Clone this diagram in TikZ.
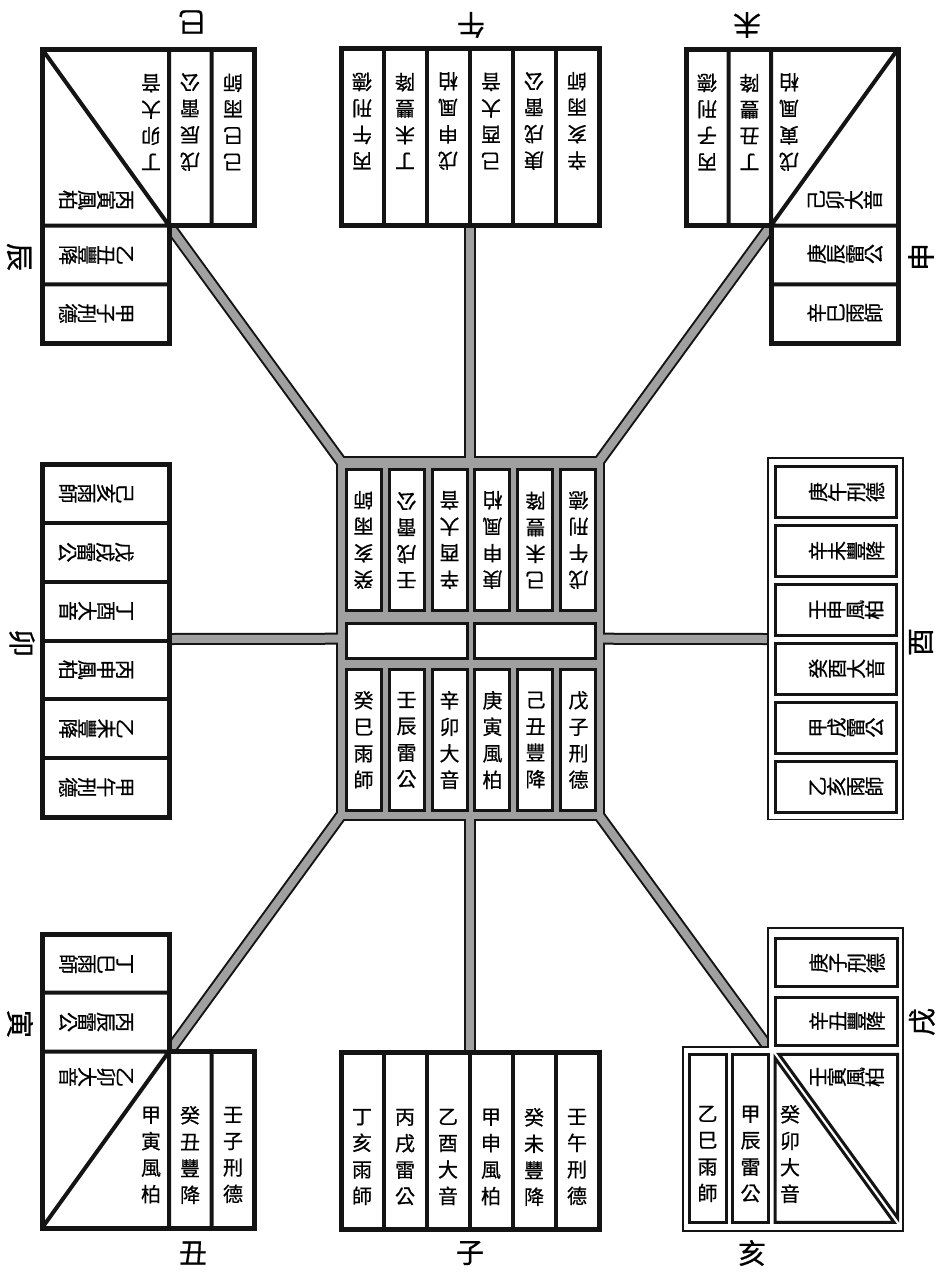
\documentclass[tikz,border=0pt]{standalone}
\usepackage{fontspec}
\usepackage{tikz}
\newfontfamily\cjk{Noto Sans CJK TC}[FakeBold=0.6]
\definecolor{Ink}{HTML}{141414}
\definecolor{Road}{HTML}{A0A0A0}
\newcommand\colfour[4]{#1\\#2\\#3\\#4}
\tikzset{
  road/.style={draw=Ink,line width=12pt},
  roadfill/.style={draw=Road,line width=8pt},
  cell/.style={draw=Ink,fill=white,line width=3pt},
  board/.style={draw=Ink,fill=white,line width=5pt},
  rule/.style={draw=Ink,line width=4pt},
  frame/.style={draw=Ink,fill=white,line width=1.8pt},
  dcell/.style={draw=Ink,fill=white,line width=3pt},
  vt/.style={font={\cjk\fontsize{20}{26.5}\selectfont},align=center,inner sep=0pt},
  ht/.style={font={\cjk\fontsize{20}{19}\selectfont\lineskiplimit=-30pt},align=center,inner sep=0pt},
  lbl/.style={font={\cjk\fontsize{28}{28}\selectfont},inner sep=0pt}
}

\begin{document}
\begin{tikzpicture}[x=1pt,y=-1pt]
  \useasboundingbox (0,0) rectangle (940,1277);
  \coordinate (hub) at (470,638.5);
  \coordinate (wu) at (470,225);
  \coordinate (zi) at (470,1052);
  \coordinate (mao) at (169,639);
  \coordinate (you) at (768,639);
  \coordinate (chensi) at (169,225.5);
  \coordinate (weishen) at (771,225.5);
  \coordinate (yinchou) at (169,1051.5);
  \coordinate (xuhai) at (768,1047);

  % roads and centre board
  \foreach \e in {wu,zi,mao,you,chensi,weishen,yinchou,xuhai}
    \draw[road] (hub) -- (\e);
  \fill[Ink] (336,456) rectangle (605,821);
  \foreach \e in {wu,zi,mao,you,chensi,weishen,yinchou,xuhai}
    \draw[roadfill] (hub) -- (\e);
  \fill[Road] (338,458) rectangle (603,819);
  \foreach \x in {346,389,432,474,517,560} {
    \draw[cell] (\x,469) rectangle ++(35,141);
    \draw[cell] (\x,669) rectangle ++(35,141);
  }
  \draw[cell] (346,623) rectangle (467,658);
  \draw[cell] (474,623) rectangle (595,658);
  \foreach \t [count=\i] in {癸亥雨師,壬戌雷公,辛酉大音,庚申風柏,己未豐降,戊午刑德}
    \node[vt,rotate=180] (up\i) at ({320.5+43*\i},540) {\expandafter\colfour\t};
  \foreach \t [count=\i] in {癸巳雨師,壬辰雷公,辛卯大音,庚寅風柏,己丑豐降,戊子刑德}
    \node[vt] (dn\i) at ({320.5+43*\i},740) {\expandafter\colfour\t};

  % 午
  \draw[board] (341,48) rectangle (599,225);
  \foreach \x in {384,427,470,513,556} \draw[rule] (\x,48) -- (\x,225);
  \foreach \t [count=\i] in {丙午刑德,丁未豐降,戊申風柏,己酉大音,庚戌雷公,辛亥雨師}
    \node[vt,rotate=180] (wu\i) at ({319+43*\i},121) {\expandafter\colfour\t};
  \node[lbl,rotate=180] (wulbl) at (471,25) {午};

  % 子
  \draw[board] (341,1052) rectangle (599,1229);
  \foreach \x in {384,427,470,513,556} \draw[rule] (\x,1052) -- (\x,1229);
  \foreach \t [count=\i] in {丁亥雨師,丙戌雷公,乙酉大音,甲申風柏,癸未豐降,壬午刑德}
    \node[vt] (zi\i) at ({319+43*\i},1157) {\expandafter\colfour\t};
  \node[lbl] (zilbl) at (470,1253) {子};

  % 卯
  \draw[board] (42,464) rectangle (169,817);
  \foreach \y in {522.8,581.7,640.5,699.3,758.2} \draw[rule] (42,\y) -- (169,\y);
  \foreach \t [count=\i] in {己亥雨師,戊戌雷公,丁酉大音,丙申風柏,乙未豐降,甲午刑德}
    \node[ht,rotate=-90] (mao\i) at (96,{434.6+58.8*\i}) {\expandafter\colfour\t};
  \node[lbl,rotate=-90] (maolbl) at (22,643) {卯};

  % 酉
  \draw[frame] (768,458) rectangle (903,819.5);
  \foreach \t [count=\i] in {庚午刑德,辛未豐降,壬申風柏,癸酉大音,甲戌雷公,乙亥雨師} {
    \draw[dcell] (775.5,{407.6+58.9*\i}) rectangle ++(120.5,51);
    \node[ht,rotate=90] (you\i) at (846.5,{433.1+58.9*\i}) {\expandafter\colfour\t};
  }
  \node[lbl,rotate=90] (youlbl) at (921,642) {酉};

  % 辰 巳
  \draw[board] (42,49) -- (254,49) -- (254,225.5) -- (169,225.5) -- (169,343) -- (42,343) -- cycle;
  \draw[rule] (169,49) -- (169,225.5) (211.5,49) -- (211.5,225.5)
    (42,225.5) -- (169,225.5) (42,284.3) -- (169,284.3) (42,49) -- (169,225.5);
  \node[ht,rotate=-90] (tl1) at (96,313.5) {\colfour 甲子刑德};
  \node[ht,rotate=-90] (tl2) at (96,255) {\colfour 乙丑豐降};
  \node[ht,rotate=-90] (tl3) at (96,200) {\colfour 丙寅風柏};
  \node[vt,rotate=180] (tl4) at (151,122) {\colfour 丁卯大音};
  \node[vt,rotate=180] (tl5) at (190,122) {\colfour 戊辰雷公};
  \node[vt,rotate=180] (tl6) at (233,122) {\colfour 己巳雨師};
  \node[lbl,rotate=180] (silbl) at (192,22) {巳};
  \node[lbl,rotate=-90] (chenlbl) at (19,257) {辰};

  % 未 申
  \draw[board] (898,49) -- (686,49) -- (686,225.5) -- (771,225.5) -- (771,343) -- (898,343) -- cycle;
  \draw[rule] (771,49) -- (771,225.5) (728.5,49) -- (728.5,225.5)
    (771,225.5) -- (898,225.5) (771,284.3) -- (898,284.3) (771,225.5) -- (898,49);
  \node[vt,rotate=180] (tr1) at (707,122) {\colfour 丙子刑德};
  \node[vt,rotate=180] (tr2) at (749.5,122) {\colfour 丁丑豐降};
  \node[vt,rotate=180] (tr3) at (789,122) {\colfour 戊寅風柏};
  \node[ht,rotate=90] (tr4) at (845,200) {\colfour 己卯大音};
  \node[ht,rotate=90] (tr5) at (845,254) {\colfour 庚辰雷公};
  \node[ht,rotate=90] (tr6) at (845,313) {\colfour 辛巳雨師};
  \node[lbl,rotate=180] (weilbl) at (747,25) {未};
  \node[lbl,rotate=90] (shenlbl) at (921,257) {申};

  % 寅 丑
  \draw[board] (42,1228) -- (254,1228) -- (254,1051.5) -- (169,1051.5) -- (169,934.5) -- (42,934.5) -- cycle;
  \draw[rule] (169,1051.5) -- (169,1228) (211.5,1051.5) -- (211.5,1228)
    (42,1051.5) -- (169,1051.5) (42,992.7) -- (169,992.7) (169,1051.5) -- (42,1228);
  \node[ht,rotate=-90] (bl1) at (96,964) {\colfour 丁巳雨師};
  \node[ht,rotate=-90] (bl2) at (96,1022) {\colfour 丙辰雷公};
  \node[ht,rotate=-90] (bl3) at (96,1077) {\colfour 乙卯大音};
  \node[vt] (bl4) at (151,1155) {\colfour 甲寅風柏};
  \node[vt] (bl5) at (190,1155) {\colfour 癸丑豐降};
  \node[vt] (bl6) at (233,1155) {\colfour 壬子刑德};
  \node[lbl,rotate=-90] (yinlbl) at (20,1024) {寅};
  \node[lbl] (choulbl) at (193,1253) {丑};

  % 戌 亥
  \draw[frame] (768,928) -- (903,928) -- (903,1231) -- (683,1231) -- (683,1047) -- (768,1047) -- cycle;
  \draw[dcell] (775.5,938.3) rectangle (897.7,986.7);
  \draw[dcell] (775.5,997.3) rectangle (897.7,1045);
  \draw[dcell] (779,1054.3) -- (897.7,1054.3) -- (897.7,1218) -- cycle;
  \draw[dcell] (775,1058) -- (775,1222.3) -- (894,1222.3) -- cycle;
  \draw[dcell] (732.7,1054.3) rectangle (768.3,1222.3);
  \draw[dcell] (689.3,1054.3) rectangle (726,1222.3);
  \node[ht,rotate=90] (br1) at (847,963) {\colfour 庚子刑德};
  \node[ht,rotate=90] (br2) at (847,1021) {\colfour 辛丑豐降};
  \node[ht,rotate=90] (br3) at (847,1077) {\colfour 壬寅風柏};
  \node[vt] (br4) at (790,1154) {\colfour 癸卯大音};
  \node[vt] (br5) at (750.5,1154) {\colfour 甲辰雷公};
  \node[vt] (br6) at (707.5,1154) {\colfour 乙巳雨師};
  \node[lbl,rotate=90] (xulbl) at (922,1022) {戌};
  \node[lbl] (hailbl) at (752,1253) {亥};
\end{tikzpicture}
\end{document}
